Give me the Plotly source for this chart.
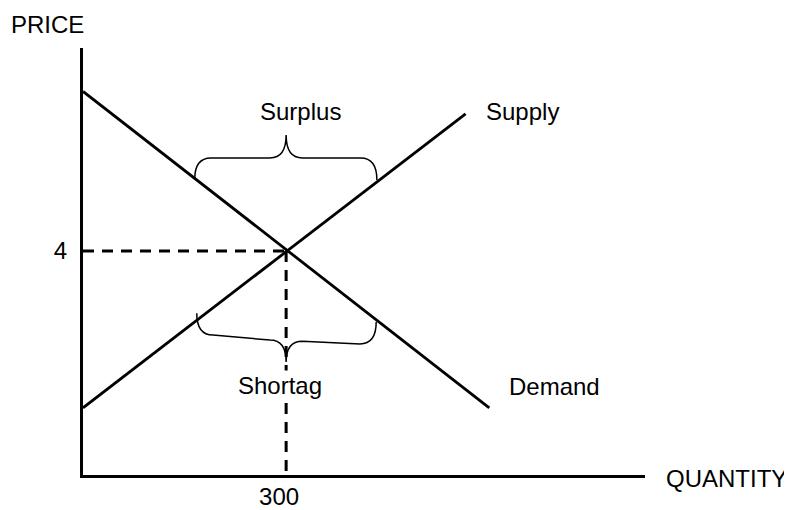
import plotly.graph_objects as go

# ---- data ----
demand_q = [0, 600]
demand_p = [6.85, 1.20]
supply_q = [0, 565]
supply_p = [1.20, 6.45]
eq_q = 300
eq_p = 4
x_tick_vals = [300]
x_tick_text = ["300"]
y_tick_vals = [4]
y_tick_text = ["4"]
x_title = "QUANTITY"
y_title = "PRICE"
label_supply = "Supply"
label_demand = "Demand"
label_surplus = "Surplus"
label_shortage = "Shortag"

FONT = "Liberation Sans, Arial, Helvetica, sans-serif"
X_MAX = 830
Y_MAX = 7.625

fig = go.Figure()

# supply & demand curves
fig.add_trace(go.Scatter(x=supply_q, y=supply_p, mode="lines",
                         line=dict(color="black", width=2.8), hoverinfo="skip"))
fig.add_trace(go.Scatter(x=demand_q, y=demand_p, mode="lines",
                         line=dict(color="black", width=2.8), hoverinfo="skip"))
# dashed guide lines to equilibrium
fig.add_trace(go.Scatter(x=[0, eq_q], y=[eq_p, eq_p], mode="lines",
                         line=dict(color="black", width=3, dash="11px,8px"), hoverinfo="skip"))
fig.add_trace(go.Scatter(x=[eq_q, eq_q], y=[eq_p, 0], mode="lines",
                         line=dict(color="black", width=3, dash="11px,8px"), hoverinfo="skip"))


def brace(xl, yl, xr, yr, xc, bl0, bl1, br0, br1, ytip, rx):
    return (f"M {xl},{yl} Q {xl},{bl0} {xl+rx},{bl0} "
            f"L {xc-rx},{bl1} Q {xc},{bl1} {xc},{ytip} "
            f"Q {xc},{br0} {xc+rx},{br0} "
            f"L {xr-rx},{br1} Q {xr},{br1} {xr},{yr}")


shapes = [
    dict(type="path", xref="x", yref="y",
         path=brace(165, 5.28, 434, 5.27, eq_q, 5.66, 5.66, 5.66, 5.66, 6.07, 24),
         line=dict(color="black", width=1.5)),
    dict(type="path", xref="x", yref="y",
         path=brace(168, 2.89, 433, 2.73, eq_q, 2.50, 2.41, 2.39, 2.34, 2.02, 24),
         line=dict(color="black", width=1.5)),
]

ann_font = dict(family=FONT, size=24, color="black")
annotations = [
    dict(x=-0.0623, y=1.056, xref="paper", yref="paper", text=y_title, showarrow=False,
         font=ann_font, xanchor="center", yanchor="middle"),
    dict(x=1.145, y=-0.008, xref="paper", yref="paper", text=x_title, showarrow=False,
         font=ann_font, xanchor="center", yanchor="middle"),
    dict(x=321.2, y=6.49, xref="x", yref="y", text=label_surplus, showarrow=False,
         font=ann_font, xanchor="center", yanchor="middle"),
    dict(x=290.9, y=1.60, xref="x", yref="y", text=label_shortage, showarrow=False,
         font=ann_font, xanchor="center", yanchor="middle", bgcolor="white"),
    dict(x=649.0, y=6.50, xref="x", yref="y", text=label_supply, showarrow=False,
         font=ann_font, xanchor="center", yanchor="middle"),
    dict(x=695.6, y=1.58, xref="x", yref="y", text=label_demand, showarrow=False,
         font=ann_font, xanchor="center", yanchor="middle"),
]

# the page body adds an 8px margin, so the figure is 8px smaller on each axis
fig.update_layout(
    width=784, height=502,
    margin=dict(l=75, r=147, t=40, b=35, pad=0, autoexpand=False),
    paper_bgcolor="white", plot_bgcolor="white",
    showlegend=False,
    shapes=shapes,
    annotations=annotations,
    font=dict(family=FONT, size=24, color="black"),
    xaxis=dict(range=[0, X_MAX], showgrid=False, zeroline=False, automargin=False,
               showline=True, linecolor="black", linewidth=3,
               tickvals=x_tick_vals, ticktext=x_tick_text, ticks="",
               tickfont=dict(family=FONT, size=24, color="black"),
               ticklabelshift=-7, ticklabelstandoff=-2, fixedrange=True),
    yaxis=dict(range=[0, Y_MAX], showgrid=False, zeroline=False, automargin=False,
               showline=True, linecolor="black", linewidth=3,
               tickvals=y_tick_vals, ticktext=y_tick_text, ticks="",
               tickfont=dict(family=FONT, size=24, color="black"),
               ticklabelstandoff=8, fixedrange=True),
)

fig.write_html("out.html", config={"displayModeBar": False})
